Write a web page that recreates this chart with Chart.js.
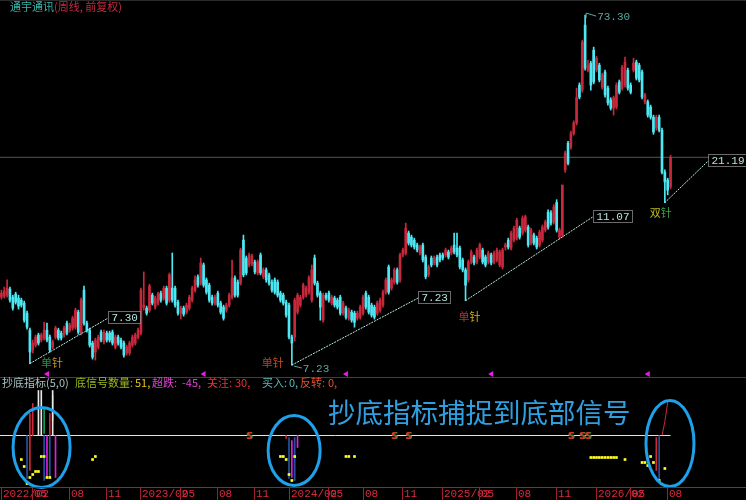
<!DOCTYPE html>
<html><head><meta charset="utf-8"><title>通宇通讯</title>
<script src="https://cdn.jsdelivr.net/npm/chart.js@4/dist/chart.umd.min.js"></script>
<style>
html,body{margin:0;padding:0;background:#000;}
#wrap{position:relative;width:746px;height:500px;background:#000;overflow:hidden;}
canvas{position:absolute;left:0;display:block;}
#c1{top:0;width:746px;height:377px;}
#c2{top:377px;width:746px;height:123px;}
</style></head><body>
<div id="wrap"><canvas id="c1" width="746" height="377"></canvas><canvas id="c2" width="746" height="123"></canvas></div>
<script>
const stockName = '通宇通讯';
const periodText = '(周线, 前复权)';

const opens = [
11.33,11.41,11.48,11.95,11.33,11.56,11.26,11.11,10.89,10.19,
9.11,7.98,8.25,8.82,8.53,8.64,9.11,8.70,8.14,8.70,
9.11,8.93,8.82,9.54,9.11,9.23,9.29,10.26,8.93,11.87,
9.54,9.11,8.36,7.88,8.14,8.99,8.42,8.93,8.93,8.99,
8.14,8.70,8.53,8.36,7.83,7.83,8.25,8.36,8.70,8.93,
10.61,10.54,10.40,11.48,10.61,10.89,11.64,11.26,12.03,11.11,
12.03,12.03,10.96,10.19,10.54,10.26,10.54,11.11,11.87,12.96,
12.43,14.02,12.70,12.27,11.33,10.89,11.64,10.89,10.61,10.40,
10.75,11.33,12.87,12.51,12.43,16.53,14.68,14.02,14.12,14.30,
13.30,14.98,12.96,13.57,13.13,12.51,12.70,12.51,11.64,11.48,
10.96,10.75,8.70,8.70,10.26,10.75,11.33,11.48,11.71,11.11,
14.68,12.43,11.64,9.73,11.48,11.64,10.89,11.26,11.11,11.33,
10.19,10.54,9.86,10.26,10.19,9.86,9.93,10.19,11.64,11.33,
10.75,10.61,10.19,10.40,10.75,11.71,13.84,12.03,12.51,13.57,
12.70,14.98,15.18,17.32,16.87,16.53,16.00,15.18,16.00,14.78,
13.13,14.68,14.21,14.78,14.98,14.98,14.98,15.28,15.18,16.00,
15.68,15.68,14.49,13.57,12.70,14.30,14.78,14.30,14.78,15.48,
14.78,14.30,14.98,14.30,14.49,14.02,13.84,15.79,16.53,15.68,
16.53,16.75,17.90,17.32,17.66,18.02,16.21,17.09,16.75,16.00,
16.53,17.66,19.9,19.8,18.62,21.2,16.87,17.09,26.3,31.4,
30.6,33.5,35.9,46.1,44.6,68.6,50.9,53.3,58.1,50.9,
52.6,45.5,50.3,45.2,41.8,39.6,39.9,47.1,45.2,46.1,
50.9,46.1,50.9,53.7,52.6,50.3,41.3,41.3,39.9,37.3,
34.7,37.3,34.2,25.9,24.6,23.5];
const highs = [
11.87,12.11,12.70,12.11,11.48,11.71,11.48,11.26,11.04,10.33,
9.23,8.53,8.82,8.93,8.93,9.60,9.54,8.82,8.53,9.35,
9.23,9.05,9.35,9.67,9.54,9.99,10.54,10.40,11.26,12.19,
9.67,9.23,8.47,8.64,8.82,9.11,9.11,9.05,9.05,9.11,
8.82,8.82,8.64,8.47,8.25,8.47,8.82,8.93,9.23,12.03,
13.39,10.68,12.35,11.64,11.41,11.71,11.79,12.19,12.19,13.30,
15.18,12.19,11.11,10.68,10.68,10.89,11.48,12.19,13.04,13.13,
14.68,14.21,12.87,12.43,11.48,11.48,11.79,11.04,10.75,10.89,
11.64,14.49,13.04,12.70,15.68,17.09,14.88,15.18,15.08,14.49,
14.49,15.18,13.75,13.75,13.30,12.70,12.87,12.70,11.79,11.64,
11.11,10.89,8.82,11.26,11.64,11.48,12.43,12.19,13.04,14.02,
14.98,12.60,11.79,11.64,11.64,11.79,11.48,11.41,11.26,11.48,
11.04,10.68,10.54,10.40,10.33,10.33,10.75,11.48,11.79,11.48,
10.89,10.75,11.04,11.26,11.87,12.87,14.02,12.87,13.75,13.75,
15.18,15.68,18.50,17.55,17.09,16.75,16.21,16.00,16.21,14.98,
14.02,14.88,14.88,14.98,15.18,15.18,15.68,15.48,15.89,17.32,
17.32,15.89,14.68,13.75,14.49,15.48,14.98,15.68,16.21,15.68,
14.98,15.38,15.18,15.38,15.68,15.48,15.68,16.21,16.75,17.55,
18.14,19.1,18.14,19.4,19.5,18.26,17.90,17.32,16.98,17.66,
18.26,18.87,20.2,20.1,20.9,21.6,17.90,23.8,29.8,31.8,
34.0,36.4,45.2,46.8,62.1,73.30,54.4,54.0,59.3,55.8,
53.3,49.9,50.9,45.8,42.4,42.9,46.8,47.7,52.6,55.5,
51.6,46.8,55.1,54.4,53.3,50.9,43.7,41.8,40.4,37.8,
37.8,37.8,34.7,26.3,24.9,29.0];
const lows = [
11.18,11.26,11.33,10.96,10.40,10.82,10.47,10.61,9.60,9.17,
7.30,7.83,8.14,8.25,8.42,8.53,8.42,7.88,8.04,8.59,
8.53,8.53,8.70,8.82,8.99,9.11,9.17,8.87,8.82,9.42,
8.99,8.14,7.52,7.47,8.04,8.42,8.31,8.42,8.42,8.25,
8.04,8.25,8.04,7.62,7.72,7.72,8.14,8.25,8.59,8.82,
10.40,10.06,10.26,10.75,10.47,10.75,10.96,11.11,10.75,10.96,
10.96,10.61,10.06,9.80,9.99,10.13,10.40,10.96,11.71,12.11,
12.27,12.11,11.56,10.96,10.75,10.75,10.61,10.13,9.73,10.26,
10.61,11.18,11.33,11.33,12.27,12.96,13.13,13.84,13.93,13.22,
13.13,13.13,12.79,12.51,12.27,11.71,11.56,11.33,10.96,10.75,
9.93,8.59,7.23,8.47,10.13,10.61,11.18,11.33,11.56,10.96,
12.27,11.33,9.73,9.60,11.11,10.96,10.75,10.61,10.47,10.06,
10.06,9.80,9.73,9.60,9.29,9.73,9.80,10.06,10.47,10.13,
9.93,9.80,10.06,10.26,10.61,11.56,11.56,11.87,12.35,12.35,
12.51,14.78,14.98,16.00,15.79,15.58,15.28,14.98,14.30,12.79,
12.96,13.84,14.02,13.84,14.30,14.49,14.78,14.59,14.98,15.08,
14.78,13.66,13.39,11.07,12.51,14.12,14.02,14.12,14.59,14.12,
13.84,14.12,14.02,14.12,14.30,13.84,13.66,15.48,15.58,15.48,
16.32,16.53,16.64,17.09,17.43,15.79,16.00,16.00,15.58,15.79,
16.32,17.43,17.78,18.26,18.38,17.43,16.64,16.87,25.9,27.2,
30.2,33.1,35.4,42.1,44.0,50.9,50.3,44.6,46.5,50.3,
47.1,44.9,42.6,40.4,39.1,37.8,39.4,43.5,44.6,45.5,
44.6,43.5,50.3,47.7,47.1,42.1,40.7,37.3,36.8,33.3,
34.2,33.8,25.6,21.19,22.3,23.2];
const closes = [
11.64,11.79,12.03,11.11,10.54,10.96,10.68,10.75,9.73,9.29,
7.88,8.36,8.70,8.36,8.82,9.11,8.53,7.98,8.42,9.23,
8.64,8.64,9.23,8.93,9.42,9.86,10.40,8.99,11.11,9.54,
9.11,8.25,7.62,8.53,8.70,8.53,8.99,8.53,8.53,8.36,
8.70,8.36,8.14,7.72,8.14,8.36,8.70,8.82,9.11,11.87,
10.75,10.19,12.19,10.89,11.26,11.56,11.11,12.03,10.89,13.13,
11.11,10.75,10.19,10.54,10.13,10.75,11.33,12.03,12.70,12.27,
14.21,12.27,11.71,11.11,10.89,11.33,10.75,10.26,9.86,10.75,
11.48,12.87,11.48,11.48,15.48,13.13,13.30,14.98,14.88,13.39,
14.30,13.30,13.57,12.70,12.43,11.87,11.71,11.48,11.11,10.89,
10.06,8.70,8.36,11.11,11.48,11.33,12.27,12.03,12.87,13.57,
12.43,11.48,10.61,11.48,11.26,11.11,11.33,10.75,10.61,10.19,
10.89,9.93,10.40,9.73,9.60,10.19,10.61,11.33,10.61,10.26,
10.06,9.93,10.89,11.11,11.71,12.70,11.71,12.70,13.57,12.51,
14.98,15.48,17.90,16.21,16.00,15.79,15.48,15.79,14.49,12.96,
13.84,14.02,14.68,14.02,14.49,14.68,15.48,14.78,15.68,15.28,
14.98,13.84,13.57,12.27,14.30,15.28,14.21,15.48,16.00,14.30,
14.02,15.18,14.21,15.18,15.48,15.28,15.48,16.00,15.79,17.32,
17.90,18.87,16.87,19.1,19.3,16.00,17.66,16.21,15.79,17.43,
18.02,18.62,18.02,18.50,20.6,17.66,17.66,23.8,29.4,27.5,
33.5,35.9,42.4,42.6,61.3,51.6,52.6,46.1,47.1,55.1,
47.7,49.3,43.2,41.0,39.6,42.4,46.1,44.0,51.9,53.7,
45.2,44.0,53.3,48.3,47.7,42.6,43.2,37.8,37.3,33.8,
37.3,34.2,25.9,24.3,23.0,28.6];

const tickIdx = [0,11,24,37,49,63,76,89,101,115,127,141,155,168,181,195,209,221,234];
const tickLabels = ['2022/02','05','08','11','2023/02','05','08','11','2024/02','05','08','11','2025/02','05','08','11','2026/02','05','08'];

const trendStartIdx = [10,102,163,233];
const trendStartVal = [7.30,7.23,11.07,21.19];
const trendEndIdx = [37.4,146.3,207.8,248.2];
const trendEndVal = [9.86,11.26,19.3,27.9];
const trendLabels = ['7.30','7.23','11.07','21.19'];

const pinIdx = [10,102,163,233];
const pinTexts = ['单针','单针','单针','双针'];
const peakIdx = 205, peakVal = 73.30;
const bottomIdx = 102, bottomVal = 7.23;
const markerIdx = [16,71,121,172,227];

// indicator panel
const indTitle = '抄底指标(5,0)';
const indNames = ['底信号数量','超跌','关注','买入','反转'];
const indValues = [51,-45,30,0,0];
const bigCaption = '抄底指标捕捉到底部信号';
const dotIdx = [7,8,9,10,11,12,13,14,15,16,17,32,33,98,99,100,101,102,103,121,122,124,207,208,209,210,211,212,213,214,215,216,219,225,226,227,228,229,231,233];
const dotVal = [-24,-31,-48,-42,-39,-36,-36,-21,-21,-42,-42,-24,-21,-21,-21,-24,-39,-45,-21,-21,-21,-21,-22,-22,-22,-22,-22,-22,-22,-22,-22,-22,-24,-27,-27,-30,-21,-27,-45,-33];
const whiteIdx = [13,14,18], whiteLo = [0,0,0], whiteHi = [45,45,45];
const greenIdx = [15,18], greenLo = [2,15], greenHi = [28,40];
const redIdx = [10,11,17,100,230], redLo = [-35,0,0,-3,-35], redHi = [22,32,22,0,-2];
const blueIdx = [9,15,17,101,103,231], blueLo = [-43,-45,-42,-43,-45,-45], blueHi = [0,0,0,-2,-2,0];
const magIdx = [16,19,102,104], magLo = [-42,-42,-42,-12], magHi = [0,0,-5,0];
const riseIdx = [232,233,234], riseVal = [0,14,33];
const sIdx = [87,138,143,200,204,206];

// ---------- styles ----------
const RED = '#c8283c', CYAN = '#4ee8f4';
const MONO = '"Liberation Mono","DejaVu Sans Mono",monospace';
const CJK = '"Noto Sans CJK SC","Noto Sans",sans-serif';
const lastIdx = closes.length - 1;
const idx = closes.map((_, i) => i);
const candleColor = c => (closes[c.dataIndex] >= opens[c.dataIndex] ? RED : CYAN);
const XMIN = -0.5, XMAX = 261.5;

const pinStyle = [
  {dx: 22, dy: -1, c: ['#2f8a48', '#c89828']},
  {dx: -19, dy: -2, c: ['#c83828', '#c84a28']},
  {dx: 4, dy: 16, c: ['#b83028', '#d0b020']},
  {dx: -4, dy: 10, c: ['#b8b820', '#3ea040']}
];

const mainAnn = {
  id: 'mainAnn',
  afterDatasetsDraw(chart) {
    const {ctx, scales: {x, y}, chartArea} = chart;
    ctx.save();
    ctx.fillStyle = '#2a2a2a';
    ctx.fillRect(0, 0, chart.width, 1);
    // title
    ctx.textBaseline = 'middle'; ctx.textAlign = 'left';
    ctx.font = '11px ' + CJK;
    ctx.fillStyle = '#36b4aa';
    ctx.fillText(stockName, 10, 7);
    const w = ctx.measureText(stockName).width;
    ctx.fillStyle = '#c42a40';
    ctx.fillText(periodText, 10 + w, 7);
    // trend line boxes
    ctx.font = '11px ' + MONO;
    trendEndIdx.forEach((ei, k) => {
      const px = x.getPixelForValue(ei), py = y.getPixelForValue(trendEndVal[k]);
      const t = trendLabels[k];
      const tw = ctx.measureText(t).width;
      const bw = Math.round(tw + 6), bh = 12;
      const bx = Math.round(px) + 0.5, by = Math.round(py - bh / 2 - 1) + 0.5;
      ctx.fillStyle = '#000'; ctx.fillRect(bx, by, bw, bh);
      ctx.strokeStyle = '#d4d4d4'; ctx.lineWidth = 1; ctx.setLineDash([1, 1]);
      ctx.strokeRect(bx, by, bw, bh);
      ctx.setLineDash([]);
      ctx.fillStyle = '#b4e2dc';
      ctx.fillText(t, bx + 3, by + bh / 2 + 0.5);
    });
    // pin labels
    ctx.font = '11px ' + CJK;
    pinIdx.forEach((pi, k) => {
      const st = pinStyle[k];
      const cx = x.getPixelForValue(pi) + st.dx, cy = y.getPixelForValue(lows[pi]) + st.dy;
      const t = pinTexts[k];
      const cw = ctx.measureText(t[0]).width;
      ctx.fillStyle = st.c[0]; ctx.fillText(t[0], cx - cw, cy);
      ctx.fillStyle = st.c[1]; ctx.fillText(t[1], cx, cy);
    });
    // peak label
    ctx.strokeStyle = '#5aa8a0'; ctx.fillStyle = '#5aa8a0'; ctx.lineWidth = 1;
    ctx.font = '11px ' + MONO;
    let px = x.getPixelForValue(peakIdx), py = y.getPixelForValue(peakVal);
    ctx.beginPath(); ctx.moveTo(px + 1, py + 3); ctx.lineTo(px + 1, py - 2); ctx.lineTo(px + 11, py + 1); ctx.stroke();
    ctx.fillText(peakVal.toFixed(2), px + 12, py + 2);
    // bottom label
    px = x.getPixelForValue(bottomIdx); py = y.getPixelForValue(bottomVal);
    ctx.beginPath(); ctx.moveTo(px + 2, py + 1); ctx.lineTo(px + 10, py + 3); ctx.stroke();
    ctx.fillText(bottomVal.toFixed(2), px + 11, py + 4);
    // magenta markers
    ctx.fillStyle = '#e81ce8';
    const my = chartArea.bottom - 3;
    markerIdx.forEach(mi => {
      const mx = x.getPixelForValue(mi);
      ctx.beginPath(); ctx.moveTo(mx - 3, my); ctx.lineTo(mx + 2, my - 3); ctx.lineTo(mx + 2, my + 3); ctx.closePath(); ctx.fill();
    });
    ctx.restore();
  }
};

new Chart(document.getElementById('c1'), {
  type: 'bar',
  data: {
    datasets: [
      {type: 'line', data: [{x: XMIN, y: closes[lastIdx]}, {x: XMAX, y: closes[lastIdx]}], borderColor: '#565656', borderWidth: 1, pointRadius: 0, order: 5},
      {type: 'bar', data: idx.map(i => ({x: i, y: [lows[i], highs[i]]})), backgroundColor: candleColor, barThickness: 1, grouped: false, minBarLength: 1, order: 3},
      {type: 'bar', data: idx.map(i => ({x: i, y: [Math.min(opens[i], closes[i]), Math.max(opens[i], closes[i])]})), backgroundColor: candleColor, barThickness: 2, grouped: false, minBarLength: 1, order: 2},
      ...trendStartIdx.map((s, k) => ({
        type: 'line', data: [{x: s, y: trendStartVal[k]}, {x: trendEndIdx[k], y: trendEndVal[k]}],
        borderColor: '#b8ece6', borderWidth: 1, borderDash: [2, 1], pointRadius: 0, order: 0
      }))
    ]
  },
  options: {
    responsive: false, animation: false, events: [],
    layout: {padding: 0, autoPadding: false},
    plugins: {legend: {display: false}, tooltip: {enabled: false}},
    scales: {
      x: {type: 'linear', min: XMIN, max: XMAX, display: false, offset: false, bounds: 'data'},
      y: {type: 'logarithmic', min: 6.68, max: 81.0, display: false, bounds: 'data'}
    }
  },
  plugins: [mainAnn]
});

// ---------- indicator ----------
const ellipses = [
  {i: 14.1, v: -12, rx: 28.5, ry: 40},
  {i: 102.8, v: -15, rx: 26, ry: 35},
  {i: 234.8, v: -8, rx: 24, ry: 43}
];
const headerStyle = [
  {x: 75, vx: 135, c: '#9ab820', vc: '#e0c020'},
  {x: 152, vx: 182, c: '#e040d0', vc: '#e040d0'},
  {x: 207, vx: 235, c: '#e03838', vc: '#e03838'},
  {x: 262, vx: 289, c: '#60b8b8', vc: '#60b8b8'},
  {x: 300, vx: 328, c: '#e05030', vc: '#e05030'}
];

const indAnn = {
  id: 'indAnn',
  afterDatasetsDraw(chart) {
    const {ctx, chartArea, scales: {x, y}} = chart;
    ctx.save();
    // separator
    ctx.fillStyle = '#8c1c2a';
    ctx.fillRect(0, 0, chart.width, 1);
    // S markers
    ctx.font = 'bold 9px "DejaVu Sans",sans-serif';
    ctx.textAlign = 'center'; ctx.textBaseline = 'middle';
    sIdx.forEach(si => {
      const sx = x.getPixelForValue(si), sy = y.getPixelForValue(0) + 1;
      ctx.fillStyle = '#2a9a40'; ctx.fillText('S', sx + 1, sy);
      ctx.fillStyle = '#d03a24'; ctx.fillText('S', sx, sy);
    });
    // header
    ctx.textAlign = 'left';
    ctx.font = '11px ' + CJK;
    ctx.fillStyle = '#a8c0c0';
    ctx.fillText(indTitle, 2, 6);
    indNames.forEach((n, k) => {
      const st = headerStyle[k];
      ctx.fillStyle = st.c; ctx.fillText(n + ':', st.x, 6);
      ctx.fillStyle = st.vc; ctx.fillText(indValues[k] + ',', st.vx, 6);
    });
    // ellipses
    ctx.strokeStyle = '#1ea0ea'; ctx.lineWidth = 3;
    ellipses.forEach(e => {
      ctx.beginPath();
      ctx.ellipse(x.getPixelForValue(e.i), y.getPixelForValue(e.v), e.rx, e.ry, 0, 0, Math.PI * 2);
      ctx.stroke();
    });
    // big caption
    ctx.font = '27.5px ' + CJK;
    ctx.fillStyle = '#2f9fe0';
    ctx.textBaseline = 'middle';
    ctx.fillText(bigCaption, 328, 36);
    // date axis
    const ab = chartArea.bottom;
    ctx.fillStyle = '#a01e2e';
    ctx.fillRect(0, Math.round(ab), chart.width, 1);
    ctx.font = '11px ' + MONO;
    tickIdx.forEach((ti, k) => {
      const tx = Math.round(x.getPixelForValue(ti) - 0.5);
      ctx.fillStyle = '#a01e2e';
      ctx.fillRect(tx, Math.round(ab), 1, chart.height - ab);
      ctx.fillStyle = '#dc2a3c';
      ctx.fillText(tickLabels[k], tx + 2, ab + 7);
    });
    ctx.restore();
  }
};

const sticks = (ix, lo, hi, color) => ({
  type: 'bar', data: ix.map((v, k) => ({x: v, y: [lo[k], hi[k]]})),
  backgroundColor: color, barThickness: 1, grouped: false, minBarLength: 1, order: 3
});

new Chart(document.getElementById('c2'), {
  type: 'bar',
  data: {
    datasets: [
      {type: 'line', data: [{x: XMIN, y: 0}, {x: lastIdx, y: 0}], borderColor: '#f4f45c', borderWidth: 1, pointRadius: 0, order: 4},
      sticks(whiteIdx, whiteLo, whiteHi, '#e8e8e8'),
      sticks(greenIdx, greenLo, greenHi, '#12a060'),
      sticks(redIdx, redLo, redHi, '#d02838'),
      sticks(blueIdx, blueLo, blueHi, '#2850a0'),
      sticks(magIdx, magLo, magHi, '#e020e0'),
      {type: 'line', data: riseIdx.map((v, k) => ({x: v, y: riseVal[k]})), borderColor: '#d02838', borderWidth: 1, pointRadius: 0, order: 2},
      {type: 'line', showLine: false, data: dotIdx.map((v, k) => ({x: v, y: dotVal[k]})), pointStyle: 'rect', pointRadius: 1.9, pointBackgroundColor: '#ffff20', pointBorderWidth: 0, order: 1}
    ]
  },
  options: {
    responsive: false, animation: false, events: [],
    layout: {padding: {top: 1, bottom: 13, left: 0, right: 0}, autoPadding: false},
    plugins: {legend: {display: false}, tooltip: {enabled: false}},
    scales: {
      x: {type: 'linear', min: XMIN, max: XMAX, display: false, offset: false, bounds: 'data'},
      y: {type: 'linear', min: -51.5, max: 57.5, display: false, bounds: 'data'}
    }
  },
  plugins: [indAnn]
});
</script></body></html>
